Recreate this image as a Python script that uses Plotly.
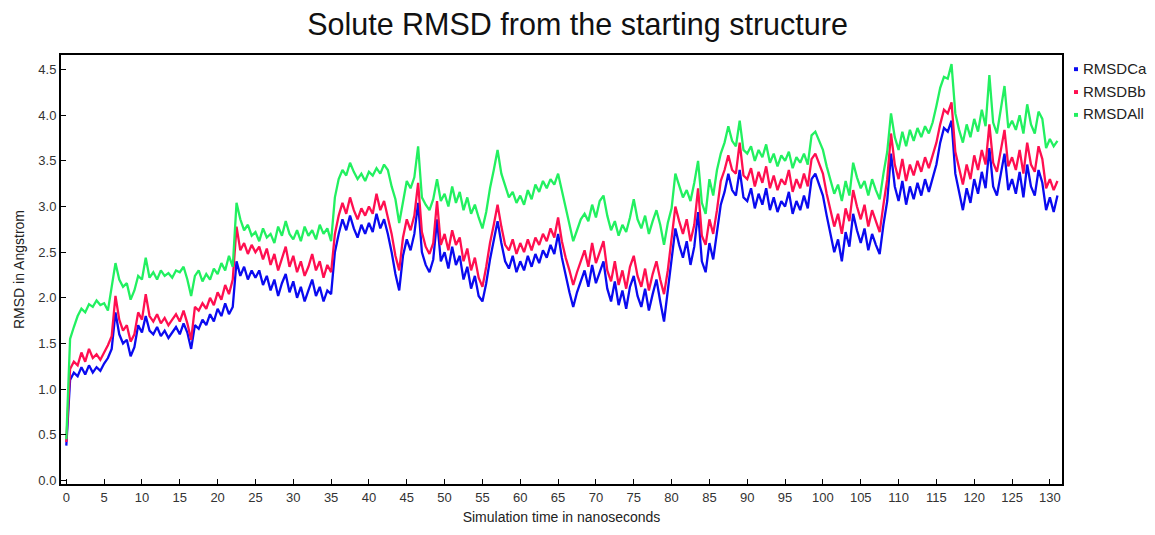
import plotly.graph_objects as go

# ---- data (0.5 ns sampling) ----
rmsd_all = [
    0.45, 1.55, 1.68, 1.80, 1.88, 1.84, 1.93, 1.90, 1.97, 1.92,
    1.94, 1.86, 2.12, 2.38, 2.20, 2.12, 2.16, 1.98, 2.08, 2.24,
    2.20, 2.44, 2.22, 2.28, 2.20, 2.30, 2.24, 2.27, 2.22, 2.30,
    2.28, 2.34, 2.20, 2.02, 2.24, 2.30, 2.18, 2.26, 2.20, 2.32,
    2.26, 2.38, 2.30, 2.46, 2.34, 3.04, 2.86, 2.74, 2.80, 2.68,
    2.72, 2.62, 2.76, 2.66, 2.70, 2.60, 2.78, 2.68, 2.84, 2.70,
    2.64, 2.74, 2.62, 2.78, 2.68, 2.74, 2.64, 2.80, 2.70, 2.76,
    2.62, 3.10, 3.30, 3.40, 3.34, 3.48, 3.38, 3.30, 3.36, 3.28,
    3.38, 3.34, 3.42, 3.36, 3.46, 3.40, 3.22, 3.08, 2.82, 3.04,
    3.28, 3.20, 3.32, 3.66, 3.10, 3.02, 2.96, 3.08, 3.30, 3.06,
    3.14, 3.00, 3.22, 3.04, 3.16, 2.96, 3.10, 2.92, 3.02, 2.88,
    2.76, 2.94, 3.20, 3.40, 3.62, 3.36, 3.22, 3.10, 3.16, 3.04,
    3.12, 3.02, 3.18, 3.08, 3.24, 3.16, 3.28, 3.20, 3.30, 3.24,
    3.36, 3.18, 2.98, 2.82, 2.62, 2.74, 2.86, 2.92, 2.84, 3.02,
    2.88, 3.06, 3.12, 2.90, 2.74, 2.84, 2.68, 2.80, 2.72, 2.88,
    3.08, 2.86, 2.76, 2.90, 2.70, 2.84, 2.96, 2.80, 2.58, 2.82,
    2.98, 3.36, 3.24, 3.10, 3.18, 3.06, 3.26, 3.50, 3.04, 2.92,
    3.30, 3.12, 3.40, 3.58, 3.70, 3.88, 3.72, 3.66, 3.94, 3.62,
    3.58, 3.66, 3.50, 3.62, 3.54, 3.68, 3.48, 3.58, 3.44, 3.56,
    3.50, 3.60, 3.42, 3.54, 3.48, 3.58, 3.46, 3.78, 3.82, 3.72,
    3.62, 3.44, 3.30, 3.14, 3.24, 3.06, 3.28, 3.12, 3.48, 3.32,
    3.20, 3.28, 3.12, 3.30, 3.18, 3.08, 3.36, 3.60, 4.02, 3.76,
    3.62, 3.82, 3.66, 3.84, 3.72, 3.86, 3.76, 3.88, 3.80, 3.92,
    4.10, 4.30, 4.42, 4.40, 4.56, 4.02, 3.84, 3.70, 3.90, 3.76,
    3.96, 3.82, 4.06, 3.88, 4.44, 3.92, 3.80, 4.04, 4.32, 3.86,
    3.94, 3.84, 4.00, 3.80, 4.12, 3.90, 3.80, 4.04, 3.96, 3.64,
    3.74, 3.66, 3.72,
]

rmsd_bb = [
    0.42, 1.22, 1.30, 1.26, 1.40, 1.30, 1.44, 1.34, 1.38, 1.32,
    1.40, 1.48, 1.58, 2.02, 1.76, 1.64, 1.70, 1.52, 1.60, 1.84,
    1.76, 2.04, 1.80, 1.74, 1.82, 1.72, 1.78, 1.70, 1.76, 1.82,
    1.74, 1.86, 1.72, 1.54, 1.90, 1.86, 1.94, 1.88, 2.00, 1.92,
    2.06, 1.98, 2.14, 2.04, 2.20, 2.78, 2.52, 2.60, 2.48, 2.58,
    2.50, 2.56, 2.42, 2.54, 2.36, 2.48, 2.30, 2.44, 2.56, 2.34,
    2.46, 2.28, 2.40, 2.24, 2.34, 2.48, 2.30, 2.40, 2.22, 2.36,
    2.28, 2.70, 2.90, 3.04, 2.92, 3.10, 2.96, 2.86, 2.98, 2.90,
    3.00, 2.92, 3.14, 2.96, 3.06, 2.88, 2.70, 2.46, 2.30, 2.66,
    2.86, 2.74, 2.90, 3.26, 2.72, 2.56, 2.48, 2.60, 3.06, 2.58,
    2.70, 2.52, 2.74, 2.58, 2.66, 2.40, 2.54, 2.30, 2.44, 2.22,
    2.12, 2.34, 2.60, 2.80, 3.02, 2.78, 2.58, 2.52, 2.64, 2.48,
    2.60, 2.50, 2.64, 2.52, 2.66, 2.58, 2.70, 2.62, 2.76, 2.66,
    2.88, 2.62, 2.44, 2.30, 2.14, 2.28, 2.40, 2.52, 2.34, 2.60,
    2.38, 2.50, 2.62, 2.30, 2.18, 2.40, 2.14, 2.30, 2.10, 2.34,
    2.46, 2.24, 2.12, 2.32, 2.08, 2.26, 2.40, 2.20, 2.04, 2.30,
    2.62, 3.00, 2.84, 2.70, 2.86, 2.62, 2.80, 3.20, 2.68, 2.58,
    2.86, 2.70, 2.96, 3.28, 3.40, 3.56, 3.40, 3.36, 3.70, 3.34,
    3.30, 3.42, 3.22, 3.38, 3.26, 3.44, 3.20, 3.34, 3.18, 3.30,
    3.24, 3.40, 3.16, 3.30, 3.20, 3.36, 3.22, 3.52, 3.58, 3.46,
    3.36, 3.14, 2.96, 2.78, 2.92, 2.70, 2.98, 2.84, 3.18, 3.00,
    2.86, 3.02, 2.78, 2.96, 2.84, 2.72, 3.02, 3.30, 3.80, 3.46,
    3.30, 3.52, 3.28, 3.46, 3.34, 3.50, 3.38, 3.54, 3.42, 3.56,
    3.70, 3.90, 4.06, 4.02, 4.14, 3.60, 3.40, 3.24, 3.46, 3.30,
    3.56, 3.40, 3.62, 3.46, 3.90, 3.48, 3.38, 3.60, 3.84, 3.44,
    3.54, 3.40, 3.62, 3.36, 3.70, 3.46, 3.38, 3.66, 3.52, 3.20,
    3.30, 3.18, 3.28,
]

rmsd_ca = [
    0.38, 1.10, 1.18, 1.14, 1.24, 1.16, 1.26, 1.18, 1.24, 1.20,
    1.28, 1.34, 1.44, 1.84, 1.60, 1.50, 1.54, 1.36, 1.46, 1.70,
    1.62, 1.80, 1.64, 1.60, 1.68, 1.58, 1.64, 1.56, 1.62, 1.68,
    1.60, 1.72, 1.62, 1.44, 1.70, 1.66, 1.76, 1.70, 1.82, 1.74,
    1.88, 1.80, 1.94, 1.82, 1.90, 2.40, 2.24, 2.34, 2.20, 2.30,
    2.22, 2.30, 2.14, 2.24, 2.08, 2.20, 2.02, 2.16, 2.26, 2.06,
    2.18, 2.00, 2.12, 1.96, 2.08, 2.20, 2.02, 2.12, 1.96, 2.08,
    2.04, 2.50, 2.70, 2.86, 2.74, 2.90, 2.76, 2.66, 2.80, 2.70,
    2.82, 2.72, 2.92, 2.76, 2.86, 2.70, 2.50, 2.26, 2.08, 2.46,
    2.64, 2.52, 2.70, 3.04, 2.50, 2.36, 2.28, 2.42, 2.86, 2.40,
    2.50, 2.32, 2.56, 2.36, 2.46, 2.20, 2.34, 2.10, 2.24, 2.02,
    1.96, 2.16, 2.42, 2.62, 2.84, 2.60, 2.40, 2.32, 2.46, 2.28,
    2.40, 2.30, 2.46, 2.34, 2.48, 2.38, 2.52, 2.44, 2.58, 2.48,
    2.70, 2.44, 2.24, 2.06, 1.90, 2.06, 2.18, 2.30, 2.12, 2.36,
    2.16, 2.28, 2.40, 2.10, 1.96, 2.18, 1.92, 2.08, 1.88, 2.12,
    2.24, 2.02, 1.90, 2.10, 1.86, 2.04, 2.20, 1.96, 1.74, 2.08,
    2.40, 2.76, 2.58, 2.44, 2.62, 2.36, 2.56, 2.94, 2.40, 2.28,
    2.60, 2.42, 2.72, 3.02, 3.16, 3.36, 3.18, 3.12, 3.40, 3.10,
    3.06, 3.20, 2.98, 3.14, 3.02, 3.20, 2.96, 3.10, 2.94, 3.06,
    3.00, 3.16, 2.92, 3.06, 2.96, 3.12, 2.98, 3.30, 3.36, 3.24,
    3.12, 2.90, 2.70, 2.50, 2.64, 2.40, 2.72, 2.56, 2.92, 2.74,
    2.60, 2.76, 2.52, 2.70, 2.58, 2.48, 2.80, 3.06, 3.58, 3.22,
    3.06, 3.28, 3.02, 3.22, 3.08, 3.26, 3.12, 3.30, 3.16, 3.32,
    3.46, 3.70, 3.86, 3.82, 3.94, 3.36, 3.14, 2.96, 3.20, 3.04,
    3.30, 3.14, 3.38, 3.20, 3.64, 3.22, 3.12, 3.36, 3.58, 3.18,
    3.30, 3.14, 3.38, 3.10, 3.46, 3.22, 3.12, 3.40, 3.26, 2.96,
    3.10, 2.94, 3.12,
]

time_step = 0.5
time_ns = [i * time_step for i in range(len(rmsd_all))]

series_names = ["RMSDCa", "RMSDBb", "RMSDAll"]
series_colors = ["#0a0af0", "#ff0f50", "#22f060"]
series_values = [rmsd_ca, rmsd_bb, rmsd_all]

x_ticks = list(range(0, 131, 5))
y_ticks = [0.0, 0.5, 1.0, 1.5, 2.0, 2.5, 3.0, 3.5, 4.0, 4.5]

# ---- figure ----
W, H = 1155, 535
ML, MR, MT, MB = 61, 93, 55, 41
FONT = "Liberation Sans, Arial, sans-serif"

fig = go.Figure()
for name, color, vals in zip(series_names, series_colors, series_values):
    fig.add_trace(go.Scatter(x=time_ns, y=vals, mode="lines", name=name,
                             line=dict(color=color, width=2.3),
                             showlegend=False))

pw, ph = W - ML - MR, H - MT - MB


def px_to_paper(px, py):
    return (px - ML) / pw, (H - MB - py) / ph


# legend built from text + small square markers
shapes = []
annotations = []
for i, (name, color) in enumerate(zip(series_names, series_colors)):
    cy = 68.5 + i * 23.4
    x0, y0 = px_to_paper(1074, cy + 3)
    x1, y1 = px_to_paper(1078, cy - 1)
    shapes.append(dict(type="rect", xref="paper", yref="paper",
                       x0=x0, x1=x1, y0=y0, y1=y1,
                       fillcolor=color, line=dict(width=0)))
    tx, ty = px_to_paper(1081, cy)
    annotations.append(dict(text=name, xref="paper", yref="paper",
                            x=tx, y=ty, xanchor="left", yanchor="middle",
                            showarrow=False,
                            font=dict(family=FONT, size=15, color="#222")))

fig.update_layout(
    width=W, height=H,
    margin=dict(l=ML, r=MR, t=MT, b=MB, pad=0),
    paper_bgcolor="white", plot_bgcolor="white",
    title=dict(text="Solute RMSD from the starting structure",
               x=0.5, xanchor="center", xref="container",
               y=1 - 24 / H, yanchor="middle", yref="container",
               font=dict(family=FONT, size=30.5, color="#111")),
    shapes=shapes, annotations=annotations,
    showlegend=False,
)

fig.update_xaxes(range=[-0.7, 131.6], tickvals=x_ticks,
                 ticktext=[str(v) for v in x_ticks],
                 showgrid=False, zeroline=False,
                 showline=True, linecolor="black", linewidth=2, mirror=True,
                 ticks="inside", ticklen=5, tickwidth=1, tickcolor="black",
                 tickfont=dict(family=FONT, size=13, color="#333"),
                 title=dict(text="Simulation time in nanoseconds",
                            font=dict(family=FONT, size=14, color="#222"),
                            standoff=9))
fig.update_yaxes(range=[-0.04, 4.66], tickvals=y_ticks,
                 ticktext=["%.1f" % v for v in y_ticks],
                 showgrid=False, zeroline=False,
                 showline=True, linecolor="black", linewidth=2, mirror=True,
                 ticks="inside", ticklen=5, tickwidth=1, tickcolor="black",
                 tickfont=dict(family=FONT, size=13, color="#333"),
                 title=dict(text="RMSD in Angstrom",
                            font=dict(family=FONT, size=14, color="#222"),
                            standoff=10))

fig.write_html("out.html")
